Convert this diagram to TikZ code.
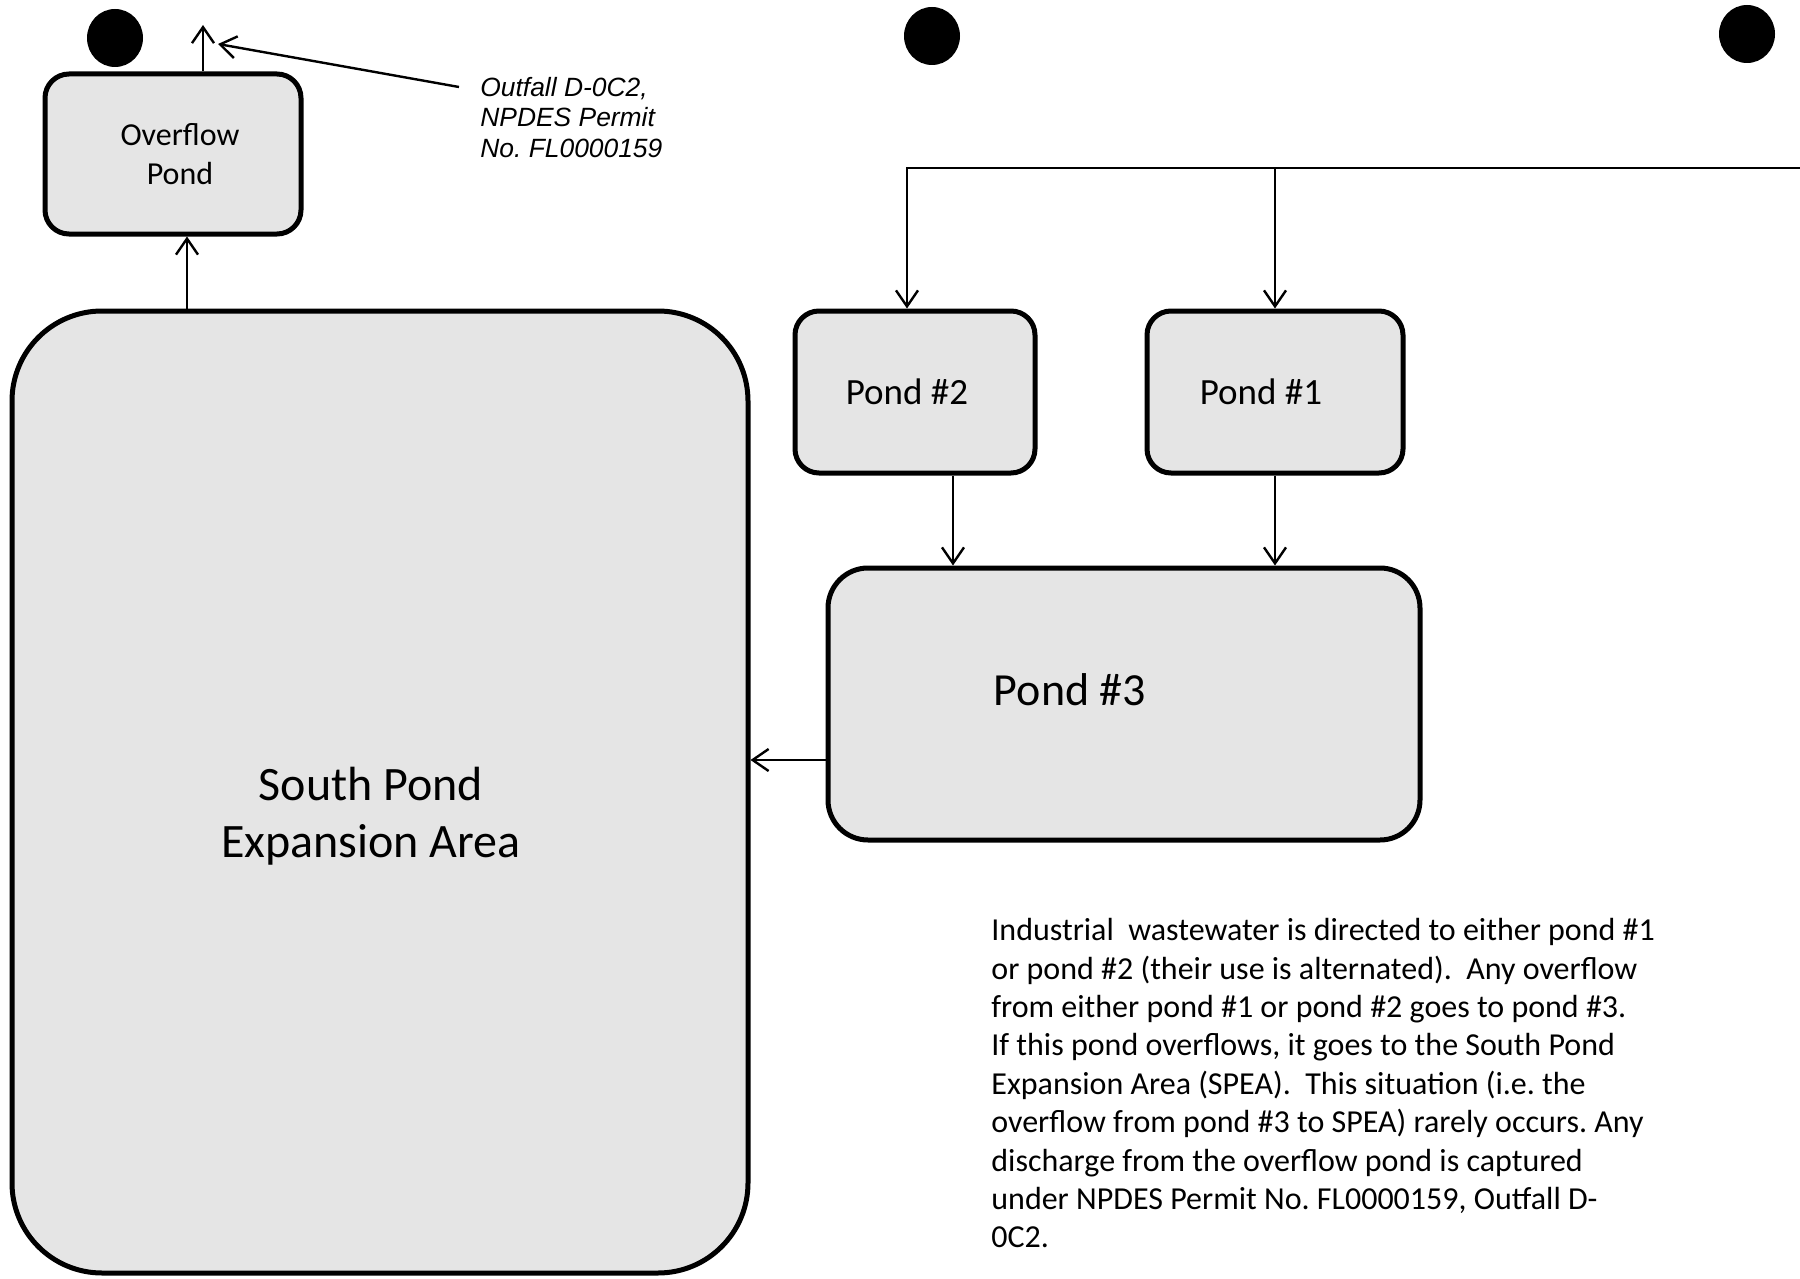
\documentclass[tikz,border=0pt]{standalone}
\usepackage{fontspec}
\setmainfont{Carlito}
\newfontfamily\notefont{Liberation Sans}
\usetikzlibrary{arrows.meta,shapes.geometric}
\frenchspacing

\tikzset{
  pond/.style={draw, line width=2.5pt, rounded corners=12pt, fill=black!10, align=center, inner sep=0pt},
  outlet/.style={ellipse, fill=black, minimum width=28pt, minimum height=29pt, inner sep=0pt},
  flow/.style={line width=1.2pt, -{Straight Barb[length=8pt,width=11pt,line width=1.2pt]}}
}

\begin{document}
\begin{tikzpicture}[x=0.5pt, y=-0.5pt]
  \useasboundingbox (0,0) rectangle (1800,1279);
  % outlets
  \node (out1) [outlet] at (115,38) {};
  \node (out2) [outlet] at (932,36) {};
  \node (out3) [outlet] at (1747,34) {};
  % ponds
  \node (overflow) [pond, minimum width=128pt, minimum height=80pt,
    label={[font=\fontsize{16}{19.5}\selectfont, align=center, xshift=3.5pt]center:Overflow\\Pond}] at (173,154) {};
  \node (spea) [pond, rounded corners=45pt, minimum width=368pt, minimum height=481pt,
    label={[font=\fontsize{24}{28.7}\selectfont, align=center, xshift=-4.5pt, yshift=-12pt]center:South Pond\\Expansion Area}] at (380,792) {};
  \node (pond2) [pond, minimum width=120pt, minimum height=81pt,
    label={[font=\fontsize{18.5}{22}\selectfont, xshift=-4pt]center:Pond \#2}] at (915,392) {};
  \node (pond1) [pond, minimum width=128pt, minimum height=81pt,
    label={[font=\fontsize{18.5}{22}\selectfont, xshift=-7pt]center:Pond \#1}] at (1275,392) {};
  \node (pond3) [pond, rounded corners=20pt, minimum width=296pt, minimum height=136pt,
    label={[font=\fontsize{23}{27}\selectfont, xshift=-27pt, yshift=7pt]center:Pond \#3}] at (1124,704) {};
  % texts
  \node (callout) [anchor=north west, inner sep=0pt, align=left, font=\notefont\itshape\fontsize{13.2}{15.2}\selectfont] at (480,77)
    {Outfall D-0C2,\\NPDES Permit\\No. FL0000159};
  \node (note) [anchor=north west, inner sep=0pt, align=left, font=\fontsize{16}{19.2}\selectfont] at (991,918)
    {Industrial\ \ wastewater is directed to either pond \#1\\
     or pond \#2 (their use is alternated).\ \ Any overflow\\
     from either pond \#1 or pond \#2 goes to pond \#3.\\
     If this pond overflows, it goes to the South Pond\\
     Expansion Area (SPEA).\ \ This situation (i.e. the\\
     overflow from pond \#3 to SPEA) rarely occurs. Any\\
     discharge from the overflow pond is captured\\
     under NPDES Permit No. FL0000159, Outfall D-\\
     0C2.};
  % connectors
  \coordinate (outfall) at (203,25);
  \coordinate (tip) at (218,44);
  \coordinate (feed) at (1800,168);
  \draw[flow] (outfall |- overflow.north) -- (outfall);
  \draw[flow] ([shift={(-21,10)}]callout.north west) -- (tip);
  \draw[flow] ([xshift=7pt]overflow.south |- spea.north) -- ([xshift=7pt]overflow.south);
  \draw[flow] (feed) -| ([xshift=-4pt]pond2.north);
  \draw[flow] (pond1.north |- feed) -- (pond1.north);
  \draw[flow] ([xshift=19pt]pond2.south) -- ([xshift=19pt]pond2.south |- pond3.north);
  \draw[flow] (pond1.south) -- (pond1.south |- pond3.north);
  \draw[flow] ([yshift=-28pt]pond3.west) -- ([yshift=-28pt]pond3.west -| spea.east);
\end{tikzpicture}
\end{document}
